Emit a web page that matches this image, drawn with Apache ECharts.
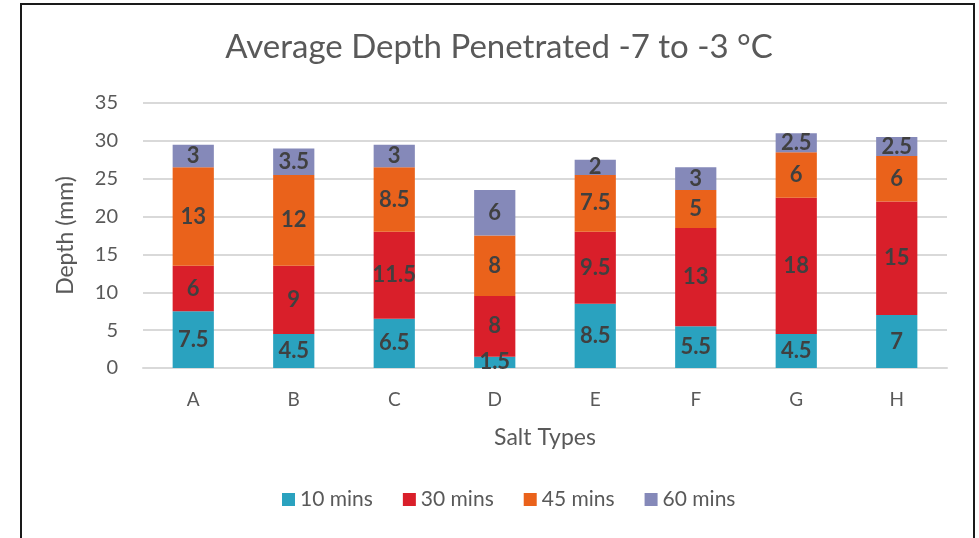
<!DOCTYPE html>
<html><head><meta charset="utf-8">
<script src="https://cdn.jsdelivr.net/npm/echarts@6/dist/echarts.min.js"></script>
<style>
html,body{margin:0;padding:0;background:#fff;overflow:hidden}
#frame{position:absolute;left:20px;top:3px;width:955px;height:600px;border:2px solid #1a1a1a;border-bottom:none;box-sizing:border-box}
#c{position:absolute;left:0;top:0;width:979px;height:538px}
</style></head>
<body>
<div id="c"></div>
<div id="frame"></div>
<script>
const categories = ['A','B','C','D','E','F','G','H'];
const mins10 = [7.5, 4.5, 6.5, 1.5, 8.5, 5.5, 4.5, 7];
const mins30 = [6, 9, 11.5, 8, 9.5, 13, 18, 15];
const mins45 = [13, 12, 8.5, 8, 7.5, 5, 6, 6];
const mins60 = [3, 3.5, 3, 6, 2, 3, 2.5, 2.5];
const seriesNames = ['10 mins','30 mins','45 mins','60 mins'];
const colors = ['#2aa2bf','#d91f2a','#ea621b','#8589b9'];
const allData = [mins10, mins30, mins45, mins60];
const font = 'Lato, "Open Sans", sans-serif';

const chart = echarts.init(document.getElementById('c'));
chart.setOption({
  animation:false,
  title:{text:'Average Depth Penetrated -7 to -3 °C',left:494,top:26,textAlign:'center',
    textStyle:{fontFamily:font,fontSize:33,fontWeight:'normal',color:'#595959'}},
  legend:{bottom:23,left:277,itemWidth:13,itemHeight:13,itemGap:30,icon:'rect',
    textStyle:{fontFamily:font,fontSize:21,color:'#595959'},data:seriesNames},
  grid:{left:143,right:32,top:103,bottom:170},
  xAxis:{type:'category',data:categories,name:'Salt Types',nameLocation:'middle',nameGap:58,
    nameTextStyle:{fontFamily:font,fontSize:23,color:'#595959'},
    axisLine:{lineStyle:{color:'#d9d9d9',width:2}},axisTick:{show:false},
    axisLabel:{fontFamily:font,fontSize:19,color:'#595959',margin:22}},
  yAxis:{type:'value',min:0,max:35,interval:5,name:'Depth (mm)',nameLocation:'middle',nameGap:66,
    nameTextStyle:{fontFamily:font,fontSize:23,color:'#595959'},
    axisLabel:{fontFamily:font,fontSize:20,color:'#595959',margin:25},
    splitLine:{lineStyle:{color:'#d9d9d9',width:2}},axisLine:{show:false},axisTick:{show:false}},
  series: allData.map((d,i)=>({
    name:seriesNames[i],type:'bar',stack:'t',data:d,barWidth:'41%',
    itemStyle:{color:colors[i]},
    label:{show:true,position:'inside',fontFamily:font,fontSize:22,fontWeight:'bold',color:'#404040'}
  }))
});
</script>
</body></html>
